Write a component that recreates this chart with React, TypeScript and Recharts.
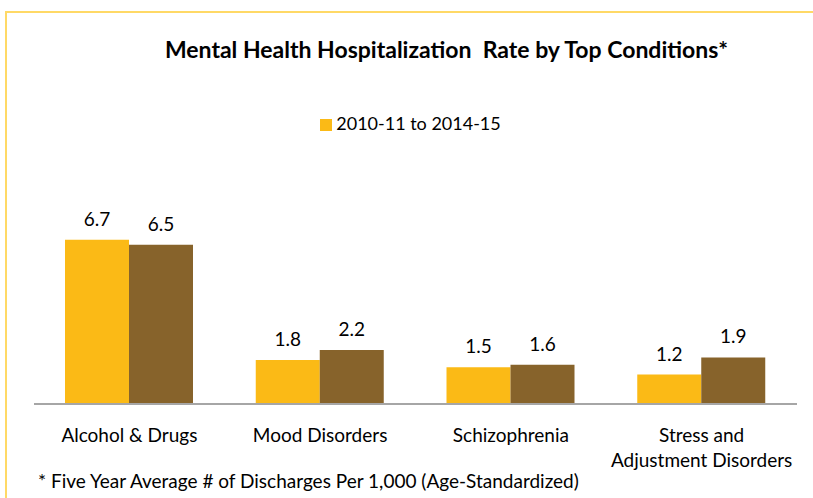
import React from 'react';
import { BarChart, Bar, XAxis, YAxis, Legend, LabelList } from 'recharts';

// categories and two five-year periods
const categories = ['Alcohol & Drugs', 'Mood Disorders', 'Schizophrenia', 'Stress and\nAdjustment Disorders'];
const period1 = [6.7, 1.8, 1.5, 1.2];
const period2 = [6.5, 2.2, 1.6, 1.9];

const data = categories.map((name, i) => ({ name, p1: period1[i], p2: period2[i] }));

const FONT = 'Lato, "Open Sans", sans-serif';

const CategoryTick = (props: any) => {
  const { x, y, payload } = props;
  const lines = String(payload.value).split('\n');
  return (
    <g transform={`translate(${x},${y})`}>
      {lines.map((line, i) => (
        <text key={i} x={0} y={i * 25} dy={30} textAnchor="middle" fill="#000" fontSize={19} fontFamily={FONT}>
          {line}
        </text>
      ))}
    </g>
  );
};

export default function App() {
  return (
    <div style={{ position: 'absolute', left: 0, top: 0, width: 813, height: 498, background: '#fff', overflow: 'hidden' }}>
      <div
        style={{
          position: 'absolute',
          left: 5,
          top: 11,
          width: 900,
          height: 600,
          border: '2px solid #FFD966',
          boxSizing: 'border-box',
        }}
      />
      <div
        style={{
          position: 'absolute',
          left: 60,
          width: 773,
          top: 35,
          textAlign: 'center',
          fontFamily: FONT,
          fontWeight: 'bold',
          fontSize: 23,
          color: '#000',
          whiteSpace: 'pre',
        }}
      >
        Mental Health Hospitalization  Rate by Top Conditions*
      </div>
      <BarChart
        width={813}
        height={498}
        data={data}
        margin={{ top: 186, right: 16, left: 34, bottom: 34 }}
        barCategoryGap={31}
        barGap={0}
        style={{ position: 'absolute', left: 0, top: 0 }}
      >
        <XAxis
          dataKey="name"
          height={60}
          tickLine={false}
          axisLine={{ stroke: '#A6A6A6', strokeWidth: 2 }}
          tick={<CategoryTick />}
          interval={0}
        />
        <YAxis hide domain={[0, 8]} />
        <Legend
          verticalAlign="top"
          align="center"
          iconType="square"
          iconSize={12}
          wrapperStyle={{ top: 112, fontFamily: FONT, fontSize: 18 }}
          formatter={(v) => <span style={{ color: '#000' }}>{v}</span>}
        />
        <Bar dataKey="p1" name="2010-11 to 2014-15" fill="#FBBA16" isAnimationActive={false}>
          <LabelList dataKey="p1" position="top" offset={14} fill="#000" fontSize={19} fontFamily={FONT} />
        </Bar>
        <Bar dataKey="p2" name="2015-16 to 2019-20" fill="#87632B" legendType="none" isAnimationActive={false}>
          <LabelList dataKey="p2" position="top" offset={14} fill="#000" fontSize={19} fontFamily={FONT} />
        </Bar>
      </BarChart>
      <div
        style={{
          position: 'absolute',
          left: 38,
          top: 469,
          fontFamily: FONT,
          fontSize: 19,
          color: '#000',
        }}
      >
        * Five Year Average # of Discharges Per 1,000 (Age-Standardized)
      </div>
    </div>
  );
}
